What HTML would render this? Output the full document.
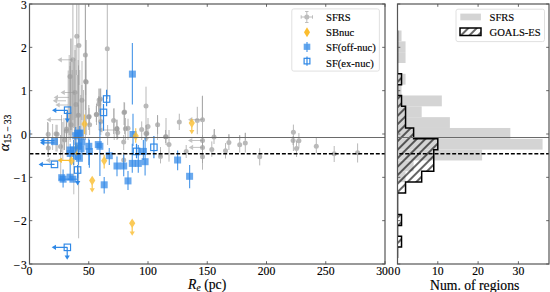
<!DOCTYPE html>
<html><head><meta charset="utf-8"><style>
html,body{margin:0;padding:0;background:#fff;width:550px;height:292px;overflow:hidden}
svg{display:block}
</style></head><body>
<svg width="550" height="292" viewBox="0 0 550 292">
<rect width="550" height="292" fill="#fff"/>
<defs><pattern id="hatch" patternUnits="userSpaceOnUse" width="6" height="6" patternTransform="rotate(45)"><line x1="3" y1="0" x2="3" y2="6" stroke="#000" stroke-width="1.2"/></pattern><clipPath id="lclip"><rect x="29.5" y="4.0" width="355.5" height="260.0"/></clipPath><clipPath id="rclip"><rect x="397.5" y="4.0" width="151.5" height="260.0"/></clipPath></defs><g clip-path="url(#rclip)"><rect x="397.5" y="30.50" width="4.03" height="10.83" fill="#d4d4d4"/><rect x="397.5" y="41.33" width="8.06" height="10.83" fill="#d4d4d4"/><rect x="397.5" y="52.16" width="8.06" height="10.83" fill="#d4d4d4"/><rect x="397.5" y="73.82" width="8.06" height="10.83" fill="#d4d4d4"/><rect x="397.5" y="84.65" width="4.03" height="10.83" fill="#d4d4d4"/><rect x="397.5" y="95.48" width="44.33" height="10.83" fill="#d4d4d4"/><rect x="397.5" y="106.31" width="24.18" height="10.83" fill="#d4d4d4"/><rect x="397.5" y="117.14" width="52.39" height="10.83" fill="#d4d4d4"/><rect x="397.5" y="127.97" width="112.84" height="10.83" fill="#d4d4d4"/><rect x="397.5" y="138.80" width="145.08" height="10.83" fill="#d4d4d4"/><rect x="397.5" y="149.63" width="84.63" height="10.83" fill="#d4d4d4"/><rect x="397.5" y="160.46" width="16.12" height="10.83" fill="#d4d4d4"/><rect x="397.5" y="171.29" width="8.06" height="10.83" fill="#d4d4d4"/><clipPath id="gclip"><path d="M397.50,30.50 L397.50,30.50 L397.50,30.50 L397.50,41.33 L397.50,41.33 L397.50,52.16 L397.50,52.16 L397.50,62.99 L397.50,62.99 L397.50,73.82 L401.53,73.82 L401.53,84.65 L397.50,84.65 L397.50,95.48 L401.53,95.48 L401.53,106.31 L405.56,106.31 L405.56,117.14 L405.56,117.14 L405.56,127.97 L413.62,127.97 L413.62,138.80 L437.80,138.80 L437.80,149.63 L433.77,149.63 L433.77,160.46 L433.77,160.46 L433.77,171.29 L421.68,171.29 L421.68,182.12 L405.56,182.12 L405.56,192.95 L397.50,192.95 L397.50,203.78 L397.50,203.78 L397.50,214.61 L401.53,214.61 L401.53,225.44 L397.50,225.44 L397.50,236.27 L401.53,236.27 L401.53,247.10 L397.50,247.10 L397.50,257.93 L397.50,257.93 Z"/></clipPath><g clip-path="url(#gclip)"><rect x="397.5" y="0" width="160" height="292" fill="url(#hatch)"/></g><path d="M397.50,30.50 L397.50,30.50 L397.50,30.50 L397.50,41.33 L397.50,41.33 L397.50,52.16 L397.50,52.16 L397.50,62.99 L397.50,62.99 L397.50,73.82 L401.53,73.82 L401.53,84.65 L397.50,84.65 L397.50,95.48 L401.53,95.48 L401.53,106.31 L405.56,106.31 L405.56,117.14 L405.56,117.14 L405.56,127.97 L413.62,127.97 L413.62,138.80 L437.80,138.80 L437.80,149.63 L433.77,149.63 L433.77,160.46 L433.77,160.46 L433.77,171.29 L421.68,171.29 L421.68,182.12 L405.56,182.12 L405.56,192.95 L397.50,192.95 L397.50,203.78 L397.50,203.78 L397.50,214.61 L401.53,214.61 L401.53,225.44 L397.50,225.44 L397.50,236.27 L401.53,236.27 L401.53,247.10 L397.50,247.10 L397.50,257.93 L397.50,257.93" fill="none" stroke="#000" stroke-width="1.5"/></g><g clip-path="url(#lclip)"><g opacity="0.6"><line x1="68.2" y1="70.5" x2="68.2" y2="150" stroke="#8a8a8a" stroke-width="0.9"/></g><g opacity="0.6"><line x1="70.5" y1="38.5" x2="70.5" y2="130" stroke="#8a8a8a" stroke-width="0.9"/></g><g opacity="0.6"><line x1="71.7" y1="38.5" x2="71.7" y2="130" stroke="#8a8a8a" stroke-width="0.9"/></g><g opacity="0.6"><line x1="82" y1="61" x2="82" y2="140" stroke="#8a8a8a" stroke-width="0.9"/></g><g opacity="0.6"><line x1="78.5" y1="65.4" x2="78.5" y2="150" stroke="#8a8a8a" stroke-width="0.9"/></g><g opacity="0.6"><line x1="75.1" y1="45" x2="75.1" y2="140" stroke="#8a8a8a" stroke-width="0.9"/></g><g opacity="0.6"><line x1="99" y1="88.5" x2="99" y2="130" stroke="#8a8a8a" stroke-width="0.9"/></g><g opacity="0.6"><line x1="100.8" y1="88.5" x2="100.8" y2="135" stroke="#8a8a8a" stroke-width="0.9"/></g><g opacity="0.6"><line x1="114.2" y1="108.3" x2="114.2" y2="140" stroke="#8a8a8a" stroke-width="0.9"/></g><g opacity="0.6"><line x1="157.5" y1="115" x2="157.5" y2="140" stroke="#8a8a8a" stroke-width="0.9"/></g><g opacity="0.6"><line x1="78.6" y1="150" x2="78.6" y2="238.3" stroke="#8a8a8a" stroke-width="0.9"/></g><g opacity="0.6"><line x1="73.8" y1="150" x2="73.8" y2="194.3" stroke="#8a8a8a" stroke-width="0.9"/></g><g opacity="0.6"><line x1="60.7" y1="150" x2="60.7" y2="180" stroke="#8a8a8a" stroke-width="0.9"/></g><g opacity="0.6"><line x1="47.5" y1="122" x2="47.5" y2="147.5" stroke="#8a8a8a" stroke-width="0.9"/></g><g opacity="0.6"><line x1="52.6" y1="124" x2="52.6" y2="150" stroke="#8a8a8a" stroke-width="0.9"/></g><g opacity="0.6"><line x1="214.5" y1="129" x2="214.5" y2="138" stroke="#8a8a8a" stroke-width="0.9"/></g><g opacity="0.6"><line x1="85.4" y1="4.5" x2="85.4" y2="140" stroke="#8a8a8a" stroke-width="0.9"/></g><g opacity="0.6"><line x1="69.2" y1="55" x2="69.2" y2="135" stroke="#8a8a8a" stroke-width="0.9"/></g><g opacity="0.6"><line x1="73.3" y1="62" x2="73.3" y2="128" stroke="#8a8a8a" stroke-width="0.9"/></g><g opacity="0.6"><line x1="74.3" y1="62" x2="74.3" y2="145" stroke="#8a8a8a" stroke-width="0.9"/></g><g opacity="0.6"><line x1="76.2" y1="70" x2="76.2" y2="150" stroke="#8a8a8a" stroke-width="0.9"/></g><g opacity="0.6"><line x1="77.6" y1="75" x2="77.6" y2="138" stroke="#8a8a8a" stroke-width="0.9"/></g><g opacity="0.6"><line x1="79.8" y1="70" x2="79.8" y2="145" stroke="#8a8a8a" stroke-width="0.9"/></g><g opacity="0.6"><line x1="80.8" y1="95" x2="80.8" y2="150" stroke="#8a8a8a" stroke-width="0.9"/></g><g opacity="0.6"><line x1="83.5" y1="90" x2="83.5" y2="140" stroke="#8a8a8a" stroke-width="0.9"/></g><g opacity="0.6"><line x1="61.5" y1="115" x2="61.5" y2="152" stroke="#8a8a8a" stroke-width="0.9"/></g><g opacity="0.6"><line x1="64" y1="118" x2="64" y2="150" stroke="#8a8a8a" stroke-width="0.9"/></g><g opacity="0.6"><line x1="66.5" y1="112" x2="66.5" y2="155" stroke="#8a8a8a" stroke-width="0.9"/></g><g opacity="0.6"><line x1="62.8" y1="122" x2="62.8" y2="160" stroke="#8a8a8a" stroke-width="0.9"/></g><g opacity="0.6"><line x1="70.2" y1="62" x2="70.2" y2="142" stroke="#8a8a8a" stroke-width="0.9"/></g><g opacity="0.6"><line x1="78.2" y1="60" x2="78.2" y2="140" stroke="#8a8a8a" stroke-width="0.9"/></g><g opacity="0.6"><line x1="72.2" y1="70" x2="72.2" y2="135" stroke="#8a8a8a" stroke-width="0.9"/></g><g opacity="0.6"><line x1="228.9" y1="134" x2="228.9" y2="140" stroke="#8a8a8a" stroke-width="0.9"/></g><g opacity="0.6"><line x1="239.7" y1="135" x2="239.7" y2="140" stroke="#8a8a8a" stroke-width="0.9"/></g><g opacity="0.6"><line x1="245.3" y1="132.9" x2="245.3" y2="140" stroke="#8a8a8a" stroke-width="0.9"/></g><g opacity="0.6"><line x1="202.3" y1="96.2" x2="202.3" y2="120" stroke="#8a8a8a" stroke-width="0.9"/></g><g opacity="0.7"><line x1="76.8" y1="4.5" x2="76.8" y2="75" stroke="#9c9c9c" stroke-width="1"/><circle cx="76.8" cy="36.3" r="2.5" fill="#9c9c9c"/></g><g opacity="0.7"><line x1="78.9" y1="4.5" x2="78.9" y2="85" stroke="#9c9c9c" stroke-width="1"/><circle cx="78.9" cy="45.4" r="2.5" fill="#9c9c9c"/></g><g opacity="0.7"><line x1="85.4" y1="4.5" x2="85.4" y2="110" stroke="#9c9c9c" stroke-width="1"/><circle cx="85.4" cy="55.1" r="2.5" fill="#9c9c9c"/></g><g opacity="0.7"><line x1="72.9" y1="4.5" x2="72.9" y2="120" stroke="#9c9c9c" stroke-width="1"/><circle cx="72.9" cy="59.8" r="2.5" fill="#9c9c9c"/></g><g opacity="0.7"><line x1="107.3" y1="4.5" x2="107.3" y2="99" stroke="#9c9c9c" stroke-width="1"/><circle cx="107.3" cy="48.8" r="2.5" fill="#9c9c9c"/></g><g opacity="0.7"><line x1="70" y1="66" x2="70" y2="140" stroke="#9c9c9c" stroke-width="1"/><circle cx="70" cy="76.5" r="2.5" fill="#9c9c9c"/></g><g opacity="0.7"><line x1="86.2" y1="40" x2="86.2" y2="135" stroke="#9c9c9c" stroke-width="1"/><circle cx="86.2" cy="82" r="2.5" fill="#9c9c9c"/></g><g opacity="0.7"><line x1="75" y1="50" x2="75" y2="140" stroke="#9c9c9c" stroke-width="1"/><circle cx="75" cy="92.5" r="2.5" fill="#9c9c9c"/></g><g opacity="0.7"><line x1="81.9" y1="85" x2="81.9" y2="120" stroke="#9c9c9c" stroke-width="1"/><circle cx="81.9" cy="100.3" r="2.5" fill="#9c9c9c"/></g><g opacity="0.7"><line x1="88.8" y1="105" x2="88.8" y2="130" stroke="#9c9c9c" stroke-width="1"/><circle cx="88.8" cy="117.1" r="2.5" fill="#9c9c9c"/></g><g opacity="0.7"><line x1="89.6" y1="115" x2="89.6" y2="135" stroke="#9c9c9c" stroke-width="1"/><circle cx="89.6" cy="124.8" r="2.5" fill="#9c9c9c"/></g><g opacity="0.7"><line x1="96.5" y1="104" x2="96.5" y2="125" stroke="#9c9c9c" stroke-width="1"/><circle cx="96.5" cy="114.5" r="2.5" fill="#9c9c9c"/></g><g opacity="0.7"><line x1="100.8" y1="110" x2="100.8" y2="132" stroke="#9c9c9c" stroke-width="1"/><circle cx="100.8" cy="121.4" r="2.5" fill="#9c9c9c"/></g><g opacity="0.7"><line x1="99.1" y1="88.7" x2="99.1" y2="115" stroke="#9c9c9c" stroke-width="1"/><circle cx="99.1" cy="100" r="2.5" fill="#9c9c9c"/></g><g opacity="0.7"><line x1="98.8" y1="96" x2="98.8" y2="112" stroke="#9c9c9c" stroke-width="1"/><circle cx="98.8" cy="104.1" r="2.5" fill="#9c9c9c"/></g><g opacity="0.7"><line x1="76" y1="95" x2="76" y2="118" stroke="#9c9c9c" stroke-width="1"/><circle cx="76" cy="104.4" r="2.5" fill="#9c9c9c"/></g><g opacity="0.7"><line x1="78.4" y1="105" x2="78.4" y2="125" stroke="#9c9c9c" stroke-width="1"/><circle cx="78.4" cy="115.2" r="2.5" fill="#9c9c9c"/></g><g opacity="0.7"><line x1="71.2" y1="112" x2="71.2" y2="138" stroke="#9c9c9c" stroke-width="1"/><circle cx="71.2" cy="124.8" r="2.5" fill="#9c9c9c"/></g><g opacity="0.7"><line x1="113.6" y1="108.5" x2="113.6" y2="134" stroke="#9c9c9c" stroke-width="1"/><circle cx="113.6" cy="120.5" r="2.5" fill="#9c9c9c"/></g><g opacity="0.7"><line x1="117" y1="119.7" x2="117" y2="140" stroke="#9c9c9c" stroke-width="1"/><circle cx="117" cy="128.8" r="2.5" fill="#9c9c9c"/></g><g opacity="0.7"><line x1="107.6" y1="125" x2="107.6" y2="145" stroke="#9c9c9c" stroke-width="1"/><circle cx="107.6" cy="134.2" r="2.5" fill="#9c9c9c"/></g><g opacity="0.7"><line x1="48.2" y1="122.7" x2="48.2" y2="157" stroke="#9c9c9c" stroke-width="1"/><circle cx="48.2" cy="134.2" r="2.5" fill="#9c9c9c"/></g><g opacity="0.7"><line x1="57.1" y1="124.8" x2="57.1" y2="151.5" stroke="#9c9c9c" stroke-width="1"/><circle cx="57.1" cy="134.2" r="2.5" fill="#9c9c9c"/></g><g opacity="0.7"><line x1="66.5" y1="120" x2="66.5" y2="140" stroke="#9c9c9c" stroke-width="1"/><circle cx="66.5" cy="129" r="2.5" fill="#9c9c9c"/></g><g opacity="0.7"><line x1="48.3" y1="140" x2="48.3" y2="157" stroke="#9c9c9c" stroke-width="1"/><circle cx="48.3" cy="148" r="2.5" fill="#9c9c9c"/></g><g opacity="0.7"><line x1="146" y1="86.7" x2="146" y2="138" stroke="#9c9c9c" stroke-width="1"/><circle cx="146" cy="106" r="2.5" fill="#9c9c9c"/></g><g opacity="0.7"><line x1="124.6" y1="102.6" x2="124.6" y2="134.2" stroke="#9c9c9c" stroke-width="1"/><circle cx="124.6" cy="112" r="2.5" fill="#9c9c9c"/></g><g opacity="0.7"><line x1="116.8" y1="119.7" x2="116.8" y2="138" stroke="#9c9c9c" stroke-width="1"/><circle cx="116.8" cy="128.8" r="2.5" fill="#9c9c9c"/></g><g opacity="0.7"><line x1="125.4" y1="118" x2="125.4" y2="140" stroke="#9c9c9c" stroke-width="1"/><circle cx="125.4" cy="128.8" r="2.5" fill="#9c9c9c"/></g><g opacity="0.7"><line x1="128" y1="118.8" x2="128" y2="140" stroke="#9c9c9c" stroke-width="1"/><circle cx="128" cy="128.2" r="2.5" fill="#9c9c9c"/></g><g opacity="0.7"><line x1="141.7" y1="121.4" x2="141.7" y2="140" stroke="#9c9c9c" stroke-width="1"/><circle cx="141.7" cy="129.4" r="2.5" fill="#9c9c9c"/></g><g opacity="0.7"><line x1="148" y1="118" x2="148" y2="135" stroke="#9c9c9c" stroke-width="1"/><circle cx="148" cy="126.5" r="2.5" fill="#9c9c9c"/></g><g opacity="0.7"><line x1="146" y1="125" x2="146" y2="141" stroke="#9c9c9c" stroke-width="1"/><circle cx="146" cy="133.4" r="2.5" fill="#9c9c9c"/></g><g opacity="0.7"><line x1="157.6" y1="115.4" x2="157.6" y2="134.2" stroke="#9c9c9c" stroke-width="1"/><circle cx="157.6" cy="124.8" r="2.5" fill="#9c9c9c"/></g><g opacity="0.7"><line x1="166" y1="118" x2="166" y2="145" stroke="#9c9c9c" stroke-width="1"/><circle cx="166" cy="136.8" r="2.5" fill="#9c9c9c"/></g><g opacity="0.7"><line x1="179.3" y1="113.7" x2="179.3" y2="130" stroke="#9c9c9c" stroke-width="1"/><circle cx="179.3" cy="121.9" r="2.5" fill="#9c9c9c"/></g><g opacity="0.7"><line x1="197.3" y1="106.8" x2="197.3" y2="134.2" stroke="#9c9c9c" stroke-width="1"/><circle cx="197.3" cy="120.5" r="2.5" fill="#9c9c9c"/></g><g opacity="0.7"><line x1="202.5" y1="95.7" x2="202.5" y2="169.7" stroke="#9c9c9c" stroke-width="1"/><circle cx="202.5" cy="119.7" r="2.5" fill="#9c9c9c"/></g><g opacity="0.7"><line x1="123.7" y1="135" x2="123.7" y2="150" stroke="#9c9c9c" stroke-width="1"/><circle cx="123.7" cy="142" r="2.5" fill="#9c9c9c"/></g><g opacity="0.7"><line x1="146.8" y1="128" x2="146.8" y2="139" stroke="#9c9c9c" stroke-width="1"/><circle cx="146.8" cy="133.4" r="2.5" fill="#9c9c9c"/></g><g opacity="0.7"><line x1="165.6" y1="130" x2="165.6" y2="143" stroke="#9c9c9c" stroke-width="1"/><circle cx="165.6" cy="136.8" r="2.5" fill="#9c9c9c"/></g><g opacity="0.7"><line x1="169" y1="130" x2="169" y2="161.7" stroke="#9c9c9c" stroke-width="1"/><circle cx="169" cy="144.6" r="2.5" fill="#9c9c9c"/></g><g opacity="0.7"><line x1="160.5" y1="147" x2="160.5" y2="163.4" stroke="#9c9c9c" stroke-width="1"/><circle cx="160.5" cy="156.5" r="2.5" fill="#9c9c9c"/></g><g opacity="0.7"><line x1="123.7" y1="152" x2="123.7" y2="168" stroke="#9c9c9c" stroke-width="1"/><circle cx="123.7" cy="160" r="2.5" fill="#9c9c9c"/></g><g opacity="0.7"><line x1="117.7" y1="126" x2="117.7" y2="139" stroke="#9c9c9c" stroke-width="1"/><circle cx="117.7" cy="132.6" r="2.5" fill="#9c9c9c"/></g><g opacity="0.7"><line x1="202.5" y1="135" x2="202.5" y2="146" stroke="#9c9c9c" stroke-width="1"/><circle cx="202.5" cy="140.5" r="2.5" fill="#9c9c9c"/></g><g opacity="0.7"><line x1="202.5" y1="142" x2="202.5" y2="153" stroke="#9c9c9c" stroke-width="1"/><circle cx="202.5" cy="147.4" r="2.5" fill="#9c9c9c"/></g><g opacity="0.7"><line x1="202.5" y1="150" x2="202.5" y2="163" stroke="#9c9c9c" stroke-width="1"/><circle cx="202.5" cy="156.8" r="2.5" fill="#9c9c9c"/></g><g opacity="0.7"><line x1="186.2" y1="145" x2="186.2" y2="158" stroke="#9c9c9c" stroke-width="1"/><circle cx="186.2" cy="151.4" r="2.5" fill="#9c9c9c"/></g><g opacity="0.7"><line x1="214" y1="129.4" x2="214" y2="144" stroke="#9c9c9c" stroke-width="1"/><circle cx="214" cy="137.1" r="2.5" fill="#9c9c9c"/></g><g opacity="0.7"><line x1="211.8" y1="141.4" x2="211.8" y2="156.8" stroke="#9c9c9c" stroke-width="1"/><circle cx="211.8" cy="149.5" r="2.5" fill="#9c9c9c"/></g><g opacity="0.7"><line x1="228.9" y1="134.6" x2="228.9" y2="150" stroke="#9c9c9c" stroke-width="1"/><circle cx="228.9" cy="142.6" r="2.5" fill="#9c9c9c"/></g><g opacity="0.7"><line x1="225.5" y1="143.1" x2="225.5" y2="158.5" stroke="#9c9c9c" stroke-width="1"/><circle cx="225.5" cy="150.8" r="2.5" fill="#9c9c9c"/></g><g opacity="0.7"><line x1="239.7" y1="135.4" x2="239.7" y2="152.5" stroke="#9c9c9c" stroke-width="1"/><circle cx="239.7" cy="144.8" r="2.5" fill="#9c9c9c"/></g><g opacity="0.7"><line x1="245.3" y1="132.8" x2="245.3" y2="152.5" stroke="#9c9c9c" stroke-width="1"/><circle cx="245.3" cy="143.1" r="2.5" fill="#9c9c9c"/></g><g opacity="0.7"><line x1="259.7" y1="148.3" x2="259.7" y2="165.4" stroke="#9c9c9c" stroke-width="1"/><circle cx="259.7" cy="156.8" r="2.5" fill="#9c9c9c"/></g><g opacity="0.7"><line x1="293.4" y1="124.6" x2="293.4" y2="151" stroke="#9c9c9c" stroke-width="1"/><circle cx="293.4" cy="132.3" r="2.5" fill="#9c9c9c"/></g><g opacity="0.7"><line x1="293.1" y1="136" x2="293.1" y2="145" stroke="#9c9c9c" stroke-width="1"/><circle cx="293.1" cy="140.5" r="2.5" fill="#9c9c9c"/></g><g opacity="0.7"><line x1="298.9" y1="133.1" x2="298.9" y2="148.5" stroke="#9c9c9c" stroke-width="1"/><circle cx="298.9" cy="140.8" r="2.5" fill="#9c9c9c"/></g><g opacity="0.7"><line x1="296.5" y1="140.8" x2="296.5" y2="157" stroke="#9c9c9c" stroke-width="1"/><circle cx="296.5" cy="148.5" r="2.5" fill="#9c9c9c"/></g><g opacity="0.7"><line x1="316.3" y1="137.7" x2="316.3" y2="153.3" stroke="#9c9c9c" stroke-width="1"/><circle cx="316.3" cy="146.3" r="2.5" fill="#9c9c9c"/></g><g opacity="0.7"><line x1="334.2" y1="146" x2="334.2" y2="162" stroke="#9c9c9c" stroke-width="1"/><circle cx="334.2" cy="153.7" r="2.5" fill="#9c9c9c"/></g><g opacity="0.7"><line x1="357.6" y1="143.4" x2="357.6" y2="162.5" stroke="#9c9c9c" stroke-width="1"/><circle cx="357.6" cy="152.8" r="2.5" fill="#9c9c9c"/></g><g opacity="0.7"><line x1="85.6" y1="70" x2="85.6" y2="95" stroke="#9c9c9c" stroke-width="1"/><circle cx="85.6" cy="81.6" r="2.5" fill="#9c9c9c"/></g><g opacity="0.7"><line x1="89.1" y1="108" x2="89.1" y2="125" stroke="#9c9c9c" stroke-width="1"/><circle cx="89.1" cy="116.5" r="2.5" fill="#9c9c9c"/></g><g opacity="0.7"><line x1="96.3" y1="106" x2="96.3" y2="122" stroke="#9c9c9c" stroke-width="1"/><circle cx="96.3" cy="114.4" r="2.5" fill="#9c9c9c"/></g><g opacity="0.7"><line x1="100.4" y1="88.7" x2="100.4" y2="125" stroke="#9c9c9c" stroke-width="1"/><circle cx="100.4" cy="99" r="2.5" fill="#9c9c9c"/></g><g opacity="0.7"><line x1="124" y1="102.1" x2="124" y2="125" stroke="#9c9c9c" stroke-width="1"/><circle cx="124" cy="112.4" r="2.5" fill="#9c9c9c"/></g><g opacity="0.7"><line x1="66.3" y1="118" x2="66.3" y2="142" stroke="#9c9c9c" stroke-width="1"/><circle cx="66.3" cy="130.9" r="2.5" fill="#9c9c9c"/></g><g opacity="0.7"><line x1="64.5" y1="130" x2="64.5" y2="150" stroke="#9c9c9c" stroke-width="1"/><circle cx="64.5" cy="140" r="2.5" fill="#9c9c9c"/></g><g opacity="0.7"><line x1="60.5" y1="135" x2="60.5" y2="155" stroke="#9c9c9c" stroke-width="1"/><circle cx="60.5" cy="146.5" r="2.5" fill="#9c9c9c"/></g><g opacity="0.7"><line x1="56" y1="124.8" x2="56" y2="151.5" stroke="#9c9c9c" stroke-width="1"/><circle cx="56" cy="133.7" r="2.5" fill="#9c9c9c"/></g><g opacity="0.6"><line x1="72.9" y1="59.8" x2="61.3" y2="59.8" stroke="#9c9c9c" stroke-width="1"/><path d="M57.5,59.8 L61.8,57.199999999999996 L61.8,62.4 Z" fill="#9c9c9c"/></g><g opacity="0.6"><line x1="75" y1="92.5" x2="64.3" y2="92.5" stroke="#9c9c9c" stroke-width="1"/><path d="M60.5,92.5 L64.8,89.9 L64.8,95.1 Z" fill="#9c9c9c"/></g><g opacity="0.6"><line x1="69" y1="97.4" x2="57.5" y2="97.4" stroke="#9c9c9c" stroke-width="1"/><path d="M53.7,97.4 L58.0,94.80000000000001 L58.0,100.0 Z" fill="#9c9c9c"/></g><g opacity="0.6"><line x1="66" y1="100.8" x2="56.599999999999994" y2="100.8" stroke="#9c9c9c" stroke-width="1"/><path d="M52.8,100.8 L57.099999999999994,98.2 L57.099999999999994,103.39999999999999 Z" fill="#9c9c9c"/></g><g opacity="0.6"><line x1="68" y1="105" x2="59.199999999999996" y2="105" stroke="#9c9c9c" stroke-width="1"/><path d="M55.4,105 L59.699999999999996,102.4 L59.699999999999996,107.6 Z" fill="#9c9c9c"/></g><g opacity="0.6"><line x1="62.2" y1="119.7" x2="50.3" y2="119.7" stroke="#9c9c9c" stroke-width="1"/><path d="M46.5,119.7 L50.8,117.10000000000001 L50.8,122.3 Z" fill="#9c9c9c"/></g><g opacity="0.6"><line x1="115.3" y1="130" x2="102.0" y2="130" stroke="#9c9c9c" stroke-width="1"/><path d="M98.2,130 L102.5,127.4 L102.5,132.6 Z" fill="#9c9c9c"/></g><g opacity="0.6"><line x1="202.5" y1="119.7" x2="191.8" y2="119.7" stroke="#9c9c9c" stroke-width="1"/><path d="M188,119.7 L192.3,117.10000000000001 L192.3,122.3 Z" fill="#9c9c9c"/></g><g opacity="0.6"><line x1="202.5" y1="140.5" x2="191.8" y2="140.5" stroke="#9c9c9c" stroke-width="1"/><path d="M188,140.5 L192.3,137.9 L192.3,143.1 Z" fill="#9c9c9c"/></g><g opacity="0.6"><line x1="202.5" y1="147.4" x2="192.60000000000002" y2="147.4" stroke="#9c9c9c" stroke-width="1"/><path d="M188.8,147.4 L193.10000000000002,144.8 L193.10000000000002,150.0 Z" fill="#9c9c9c"/></g><g opacity="0.6"><line x1="60" y1="160.3" x2="49.599999999999994" y2="160.3" stroke="#9c9c9c" stroke-width="1"/><path d="M45.8,160.3 L50.099999999999994,157.70000000000002 L50.099999999999994,162.9 Z" fill="#9c9c9c"/></g><g opacity="0.6"><line x1="160.5" y1="150" x2="160.5" y2="154.2" stroke="#9c9c9c" stroke-width="1"/><path d="M160.5,158 L157.9,153.7 L163.1,153.7 Z" fill="#9c9c9c"/></g><g opacity="0.6"><line x1="146.5" y1="133" x2="146.5" y2="138.2" stroke="#9c9c9c" stroke-width="1"/><path d="M146.5,142 L143.9,137.7 L149.1,137.7 Z" fill="#9c9c9c"/></g><path d="M76.6,143.2 L79.69999999999999,148 L76.6,152.8 L73.5,148 Z" fill="#fbbd2e" opacity="0.8"/><g opacity="0.8"><line x1="132.4" y1="43" x2="132.4" y2="104.5" stroke="#2f88e6" stroke-width="1.2"/></g><rect x="128.9" y="70.6" width="7" height="7" fill="#3088e8" opacity="0.72"/><g opacity="0.8"></g><rect x="51.0" y="138.1" width="7" height="7" fill="#3088e8" opacity="0.72"/><g opacity="0.8"></g><rect x="23.5" y="129.9" width="7" height="7" fill="#3088e8" opacity="0.72"/><g opacity="0.8"><line x1="75.7" y1="127" x2="75.7" y2="160" stroke="#2f88e6" stroke-width="1.2"/></g><rect x="72.2" y="132.2" width="7" height="7" fill="#3088e8" opacity="0.72"/><g opacity="0.8"><line x1="79.8" y1="126" x2="79.8" y2="150" stroke="#2f88e6" stroke-width="1.2"/></g><rect x="76.3" y="129.5" width="7" height="7" fill="#3088e8" opacity="0.72"/><g opacity="0.8"><line x1="81.9" y1="130" x2="81.9" y2="155" stroke="#2f88e6" stroke-width="1.2"/></g><rect x="78.4" y="138.4" width="7" height="7" fill="#3088e8" opacity="0.72"/><g opacity="0.8"><line x1="78.4" y1="135" x2="78.4" y2="165" stroke="#2f88e6" stroke-width="1.2"/></g><rect x="74.9" y="142.5" width="7" height="7" fill="#3088e8" opacity="0.72"/><g opacity="0.8"><line x1="73.6" y1="140" x2="73.6" y2="165" stroke="#2f88e6" stroke-width="1.2"/></g><rect x="70.1" y="146.5" width="7" height="7" fill="#3088e8" opacity="0.72"/><g opacity="0.8"><line x1="88.8" y1="138.4" x2="88.8" y2="165" stroke="#2f88e6" stroke-width="1.2"/></g><rect x="85.3" y="142.8" width="7" height="7" fill="#3088e8" opacity="0.72"/><g opacity="0.8"><line x1="99.9" y1="122" x2="99.9" y2="176" stroke="#2f88e6" stroke-width="1.2"/></g><rect x="96.4" y="142.8" width="7" height="7" fill="#3088e8" opacity="0.72"/><g opacity="0.8"></g><rect x="94.8" y="141.1" width="7" height="7" fill="#3088e8" opacity="0.72"/><g opacity="0.8"><line x1="70.2" y1="143.7" x2="70.2" y2="178" stroke="#2f88e6" stroke-width="1.2"/></g><rect x="66.7" y="150.0" width="7" height="7" fill="#3088e8" opacity="0.72"/><g opacity="0.8"><line x1="89.4" y1="140" x2="89.4" y2="167.7" stroke="#2f88e6" stroke-width="1.2"/></g><rect x="85.9" y="148.0" width="7" height="7" fill="#3088e8" opacity="0.72"/><g opacity="0.8"><line x1="109.3" y1="148" x2="109.3" y2="165" stroke="#2f88e6" stroke-width="1.2"/></g><rect x="105.8" y="152.2" width="7" height="7" fill="#3088e8" opacity="0.72"/><g opacity="0.8"><line x1="117" y1="156.5" x2="117" y2="176.2" stroke="#2f88e6" stroke-width="1.2"/></g><rect x="113.5" y="162.5" width="7" height="7" fill="#3088e8" opacity="0.72"/><g opacity="0.8"><line x1="123.7" y1="154.8" x2="123.7" y2="176.2" stroke="#2f88e6" stroke-width="1.2"/></g><rect x="120.2" y="162.5" width="7" height="7" fill="#3088e8" opacity="0.72"/><g opacity="0.8"><line x1="132.3" y1="143.7" x2="132.3" y2="172.8" stroke="#2f88e6" stroke-width="1.2"/></g><rect x="128.8" y="159.9" width="7" height="7" fill="#3088e8" opacity="0.72"/><g opacity="0.8"><line x1="138.3" y1="145" x2="138.3" y2="172.8" stroke="#2f88e6" stroke-width="1.2"/></g><rect x="134.8" y="159.9" width="7" height="7" fill="#3088e8" opacity="0.72"/><g opacity="0.8"><line x1="145.1" y1="136.8" x2="145.1" y2="175.4" stroke="#2f88e6" stroke-width="1.2"/></g><rect x="141.6" y="158.2" width="7" height="7" fill="#3088e8" opacity="0.72"/><g opacity="0.8"><line x1="143.4" y1="140" x2="143.4" y2="160" stroke="#2f88e6" stroke-width="1.2"/></g><rect x="139.9" y="147.9" width="7" height="7" fill="#3088e8" opacity="0.72"/><g opacity="0.8"><line x1="133" y1="113.7" x2="133" y2="146" stroke="#2f88e6" stroke-width="1.2"/></g><rect x="129.5" y="131.0" width="7" height="7" fill="#3088e8" opacity="0.72"/><g opacity="0.8"><line x1="177.6" y1="150.5" x2="177.6" y2="170.2" stroke="#2f88e6" stroke-width="1.2"/></g><rect x="174.1" y="156.5" width="7" height="7" fill="#3088e8" opacity="0.72"/><g opacity="0.8"><line x1="189.6" y1="165.1" x2="189.6" y2="188.3" stroke="#2f88e6" stroke-width="1.2"/></g><rect x="186.1" y="172.8" width="7" height="7" fill="#3088e8" opacity="0.72"/><g opacity="0.8"><line x1="128" y1="171" x2="128" y2="190" stroke="#2f88e6" stroke-width="1.2"/></g><rect x="124.5" y="177.4" width="7" height="7" fill="#3088e8" opacity="0.72"/><g opacity="0.8"><line x1="63.1" y1="169.4" x2="63.1" y2="187.4" stroke="#2f88e6" stroke-width="1.2"/><line x1="58.8" y1="179.2" x2="72.5" y2="179.2" stroke="#2f88e6" stroke-width="1.2"/></g><rect x="59.6" y="175.7" width="7" height="7" fill="#3088e8" opacity="0.72"/><g opacity="0.8"><line x1="68" y1="179.2" x2="77.7" y2="179.2" stroke="#2f88e6" stroke-width="1.2"/></g><rect x="69.4" y="175.7" width="7" height="7" fill="#3088e8" opacity="0.72"/><g opacity="0.8"><line x1="104.2" y1="177.1" x2="104.2" y2="193.4" stroke="#2f88e6" stroke-width="1.2"/></g><rect x="100.7" y="181.3" width="7" height="7" fill="#3088e8" opacity="0.72"/><g opacity="0.8"></g><rect x="75.9" y="154.8" width="7" height="7" fill="#3088e8" opacity="0.72"/><g opacity="0.8"></g><rect x="66.5" y="146.5" width="7" height="7" fill="#3088e8" opacity="0.72"/><g opacity="0.8"></g><rect x="74.2" y="129.9" width="7" height="7" fill="#3088e8" opacity="0.72"/><g opacity="0.8"></g><rect x="77.5" y="145.3" width="7" height="7" fill="#3088e8" opacity="0.72"/><g opacity="0.8"></g><rect x="58.2" y="174.2" width="7" height="7" fill="#3088e8" opacity="0.72"/><g opacity="0.8"></g><rect x="66.5" y="173.7" width="7" height="7" fill="#3088e8" opacity="0.72"/><g opacity="0.8"></g><rect x="74.1" y="152.7" width="7" height="7" fill="#3088e8" opacity="0.72"/><line x1="54.5" y1="140.6" x2="43.8" y2="140.6" stroke="#2f88e6" stroke-width="1.2"/><path d="M40,140.6 L44.3,138.0 L44.3,143.2 Z" fill="#2f88e6"/><line x1="54.5" y1="142.8" x2="43.8" y2="142.8" stroke="#2f88e6" stroke-width="1.2"/><path d="M40,142.8 L44.3,140.20000000000002 L44.3,145.4 Z" fill="#2f88e6"/><line x1="67.6" y1="110.3" x2="55.8" y2="110.3" stroke="#2f88e6" stroke-width="1.2"/><path d="M52,110.3 L56.3,107.7 L56.3,112.89999999999999 Z" fill="#2f88e6"/><line x1="54.5" y1="164.4" x2="42.4" y2="164.4" stroke="#2f88e6" stroke-width="1.2"/><path d="M38.6,164.4 L42.9,161.8 L42.9,167.0 Z" fill="#2f88e6"/><line x1="67.35" y1="247.35" x2="55.5" y2="247.35" stroke="#2f88e6" stroke-width="1.2"/><path d="M51.7,247.35 L56.0,244.75 L56.0,249.95 Z" fill="#2f88e6"/><line x1="67.4" y1="110.2" x2="67.4" y2="119.0" stroke="#2f88e6" stroke-width="1.2"/><path d="M67.4,122.8 L64.80000000000001,118.5 L70.0,118.5 Z" fill="#2f88e6"/><line x1="77.7" y1="170.2" x2="77.7" y2="181.6" stroke="#2f88e6" stroke-width="1.2"/><path d="M77.7,185.4 L75.10000000000001,181.1 L80.3,181.1 Z" fill="#2f88e6"/><line x1="67.2" y1="247.35" x2="67.2" y2="256.0" stroke="#2f88e6" stroke-width="1.2"/><path d="M67.2,259.8 L64.60000000000001,255.5 L69.8,255.5 Z" fill="#2f88e6"/><rect x="64.39999999999999" y="106.95" width="6.4" height="6.5" fill="none" stroke="#2f88e6" stroke-width="1.15"/><line x1="106.6" y1="89.8" x2="106.6" y2="106.2" stroke="#2f88e6" stroke-width="1.2"/><rect x="103.39999999999999" y="95.75" width="6.4" height="6.5" fill="none" stroke="#2f88e6" stroke-width="1.15"/><line x1="103.5" y1="104.1" x2="103.5" y2="130.8" stroke="#2f88e6" stroke-width="1.2"/><rect x="100.3" y="109.15" width="6.4" height="6.5" fill="none" stroke="#2f88e6" stroke-width="1.15"/><rect x="51.3" y="161.15" width="6.4" height="6.5" fill="none" stroke="#2f88e6" stroke-width="1.15"/><line x1="77.6" y1="165" x2="77.6" y2="178" stroke="#2f88e6" stroke-width="1.2"/><rect x="74.39999999999999" y="166.75" width="6.4" height="6.5" fill="none" stroke="#2f88e6" stroke-width="1.15"/><line x1="136.5" y1="143.7" x2="136.5" y2="158.3" stroke="#2f88e6" stroke-width="1.2"/><rect x="133.3" y="148.15" width="6.4" height="6.5" fill="none" stroke="#2f88e6" stroke-width="1.15"/><line x1="153.9" y1="136" x2="153.9" y2="158.2" stroke="#2f88e6" stroke-width="1.2"/><rect x="150.70000000000002" y="144.05" width="6.4" height="6.5" fill="none" stroke="#2f88e6" stroke-width="1.15"/><rect x="64.14999999999999" y="244.1" width="6.4" height="6.5" fill="none" stroke="#2f88e6" stroke-width="1.15"/><line x1="71.5" y1="160.3" x2="61.4" y2="160.3" stroke="#fbbd2e" stroke-width="1.2"/><path d="M57.6,160.3 L61.9,157.70000000000002 L61.9,162.9 Z" fill="#fbbd2e"/><g opacity="0.8"><line x1="84.5" y1="114.5" x2="84.5" y2="134.2" stroke="#fbbd2e" stroke-width="1.2"/><path d="M84.5,119.2 L87.6,124 L84.5,128.8 L81.4,124 Z" fill="#fbbd2e"/></g><g opacity="0.8"><path d="M71.5,156.0 L74.6,160.8 L71.5,165.60000000000002 L68.4,160.8 Z" fill="#fbbd2e"/></g><g opacity="0.8"><line x1="104.2" y1="154.8" x2="104.2" y2="168.5" stroke="#fbbd2e" stroke-width="1.2"/><path d="M104.2,156.0 L107.3,160.8 L104.2,165.60000000000002 L101.10000000000001,160.8 Z" fill="#fbbd2e"/></g><g opacity="0.8"><line x1="92.2" y1="180.6" x2="92.2" y2="188.7" stroke="#fbbd2e" stroke-width="1.3"/><path d="M92.2,192.5 L89.60000000000001,188.2 L94.8,188.2 Z" fill="#fbbd2e"/><path d="M92.2,175.79999999999998 L95.3,180.6 L92.2,185.4 L89.10000000000001,180.6 Z" fill="#fbbd2e"/></g><g opacity="0.8"><line x1="191.8" y1="123.1" x2="191.8" y2="130.39999999999998" stroke="#fbbd2e" stroke-width="1.3"/><path d="M191.8,134.2 L189.20000000000002,129.89999999999998 L194.4,129.89999999999998 Z" fill="#fbbd2e"/><path d="M191.8,118.3 L194.9,123.1 L191.8,127.89999999999999 L188.70000000000002,123.1 Z" fill="#fbbd2e"/></g><g opacity="0.8"><line x1="135.7" y1="128.2" x2="135.7" y2="142.8" stroke="#fbbd2e" stroke-width="1.2"/><path d="M135.7,131.2 L138.79999999999998,136 L135.7,140.8 L132.6,136 Z" fill="#fbbd2e"/></g><g opacity="0.8"><line x1="132.2" y1="223.3" x2="132.2" y2="232.0" stroke="#fbbd2e" stroke-width="1.3"/><path d="M132.2,235.8 L129.6,231.5 L134.79999999999998,231.5 Z" fill="#fbbd2e"/><path d="M132.2,218.5 L135.29999999999998,223.3 L132.2,228.10000000000002 L129.1,223.3 Z" fill="#fbbd2e"/></g><g opacity="0.8"><path d="M76.5,150.9 L78.05,153.3 L76.5,155.70000000000002 L74.95,153.3 Z" fill="#fbbd2e"/></g></g><line x1="29.5" y1="137.5" x2="385.0" y2="137.5" stroke="#6a6a6a" stroke-width="1.1"/><line x1="397.5" y1="137.5" x2="549.0" y2="137.5" stroke="#6a6a6a" stroke-width="1.1"/><line x1="29.5" y1="153.7" x2="385.0" y2="153.7" stroke="#000" stroke-width="1.5" stroke-dasharray="3.95 1.92"/><line x1="397.5" y1="153.7" x2="549.0" y2="153.7" stroke="#000" stroke-width="1.5" stroke-dasharray="3.95 1.92" stroke-dashoffset="4.03"/><rect x="29.5" y="4.0" width="355.5" height="260.0" fill="none" stroke="#555" stroke-width="1.2"/><rect x="397.5" y="4.0" width="151.5" height="260.0" fill="none" stroke="#555" stroke-width="1.2"/><line x1="29.50" y1="264.0" x2="29.50" y2="261.2" stroke="#555" stroke-width="0.9"/><line x1="29.50" y1="4.0" x2="29.50" y2="6.8" stroke="#555" stroke-width="0.9"/><text x="29.50" y="274.5" font-family="Liberation Serif" stroke="#000" stroke-width="0.15" font-size="11.7" text-anchor="middle">0</text><line x1="88.75" y1="264.0" x2="88.75" y2="261.2" stroke="#555" stroke-width="0.9"/><line x1="88.75" y1="4.0" x2="88.75" y2="6.8" stroke="#555" stroke-width="0.9"/><text x="88.75" y="274.5" font-family="Liberation Serif" stroke="#000" stroke-width="0.15" font-size="11.7" text-anchor="middle">50</text><line x1="148.00" y1="264.0" x2="148.00" y2="261.2" stroke="#555" stroke-width="0.9"/><line x1="148.00" y1="4.0" x2="148.00" y2="6.8" stroke="#555" stroke-width="0.9"/><text x="148.00" y="274.5" font-family="Liberation Serif" stroke="#000" stroke-width="0.15" font-size="11.7" text-anchor="middle">100</text><line x1="207.25" y1="264.0" x2="207.25" y2="261.2" stroke="#555" stroke-width="0.9"/><line x1="207.25" y1="4.0" x2="207.25" y2="6.8" stroke="#555" stroke-width="0.9"/><text x="207.25" y="274.5" font-family="Liberation Serif" stroke="#000" stroke-width="0.15" font-size="11.7" text-anchor="middle">150</text><line x1="266.50" y1="264.0" x2="266.50" y2="261.2" stroke="#555" stroke-width="0.9"/><line x1="266.50" y1="4.0" x2="266.50" y2="6.8" stroke="#555" stroke-width="0.9"/><text x="266.50" y="274.5" font-family="Liberation Serif" stroke="#000" stroke-width="0.15" font-size="11.7" text-anchor="middle">200</text><line x1="325.75" y1="264.0" x2="325.75" y2="261.2" stroke="#555" stroke-width="0.9"/><line x1="325.75" y1="4.0" x2="325.75" y2="6.8" stroke="#555" stroke-width="0.9"/><text x="325.75" y="274.5" font-family="Liberation Serif" stroke="#000" stroke-width="0.15" font-size="11.7" text-anchor="middle">250</text><line x1="385.00" y1="264.0" x2="385.00" y2="261.2" stroke="#555" stroke-width="0.9"/><line x1="385.00" y1="4.0" x2="385.00" y2="6.8" stroke="#555" stroke-width="0.9"/><text x="385.00" y="274.5" font-family="Liberation Serif" stroke="#000" stroke-width="0.15" font-size="11.7" text-anchor="middle">300</text><line x1="29.5" y1="264.00" x2="32.3" y2="264.00" stroke="#555" stroke-width="0.9"/><line x1="385.0" y1="264.00" x2="382.2" y2="264.00" stroke="#555" stroke-width="0.9"/><line x1="397.5" y1="264.00" x2="400.3" y2="264.00" stroke="#555" stroke-width="0.9"/><line x1="549.0" y1="264.00" x2="546.2" y2="264.00" stroke="#555" stroke-width="0.9"/><text x="26.8" y="268.50" font-family="Liberation Serif" stroke="#000" stroke-width="0.15" font-size="11.6" text-anchor="end">− 3</text><line x1="29.5" y1="220.67" x2="32.3" y2="220.67" stroke="#555" stroke-width="0.9"/><line x1="385.0" y1="220.67" x2="382.2" y2="220.67" stroke="#555" stroke-width="0.9"/><line x1="397.5" y1="220.67" x2="400.3" y2="220.67" stroke="#555" stroke-width="0.9"/><line x1="549.0" y1="220.67" x2="546.2" y2="220.67" stroke="#555" stroke-width="0.9"/><text x="26.8" y="225.17" font-family="Liberation Serif" stroke="#000" stroke-width="0.15" font-size="11.6" text-anchor="end">− 2</text><line x1="29.5" y1="177.33" x2="32.3" y2="177.33" stroke="#555" stroke-width="0.9"/><line x1="385.0" y1="177.33" x2="382.2" y2="177.33" stroke="#555" stroke-width="0.9"/><line x1="397.5" y1="177.33" x2="400.3" y2="177.33" stroke="#555" stroke-width="0.9"/><line x1="549.0" y1="177.33" x2="546.2" y2="177.33" stroke="#555" stroke-width="0.9"/><text x="26.8" y="181.83" font-family="Liberation Serif" stroke="#000" stroke-width="0.15" font-size="11.6" text-anchor="end">− 1</text><line x1="29.5" y1="134.00" x2="32.3" y2="134.00" stroke="#555" stroke-width="0.9"/><line x1="385.0" y1="134.00" x2="382.2" y2="134.00" stroke="#555" stroke-width="0.9"/><line x1="397.5" y1="134.00" x2="400.3" y2="134.00" stroke="#555" stroke-width="0.9"/><line x1="549.0" y1="134.00" x2="546.2" y2="134.00" stroke="#555" stroke-width="0.9"/><text x="26.8" y="138.50" font-family="Liberation Serif" stroke="#000" stroke-width="0.15" font-size="11.6" text-anchor="end">0</text><line x1="29.5" y1="90.67" x2="32.3" y2="90.67" stroke="#555" stroke-width="0.9"/><line x1="385.0" y1="90.67" x2="382.2" y2="90.67" stroke="#555" stroke-width="0.9"/><line x1="397.5" y1="90.67" x2="400.3" y2="90.67" stroke="#555" stroke-width="0.9"/><line x1="549.0" y1="90.67" x2="546.2" y2="90.67" stroke="#555" stroke-width="0.9"/><text x="26.8" y="95.17" font-family="Liberation Serif" stroke="#000" stroke-width="0.15" font-size="11.6" text-anchor="end">1</text><line x1="29.5" y1="47.33" x2="32.3" y2="47.33" stroke="#555" stroke-width="0.9"/><line x1="385.0" y1="47.33" x2="382.2" y2="47.33" stroke="#555" stroke-width="0.9"/><line x1="397.5" y1="47.33" x2="400.3" y2="47.33" stroke="#555" stroke-width="0.9"/><line x1="549.0" y1="47.33" x2="546.2" y2="47.33" stroke="#555" stroke-width="0.9"/><text x="26.8" y="51.83" font-family="Liberation Serif" stroke="#000" stroke-width="0.15" font-size="11.6" text-anchor="end">2</text><line x1="29.5" y1="4.00" x2="32.3" y2="4.00" stroke="#555" stroke-width="0.9"/><line x1="385.0" y1="4.00" x2="382.2" y2="4.00" stroke="#555" stroke-width="0.9"/><line x1="397.5" y1="4.00" x2="400.3" y2="4.00" stroke="#555" stroke-width="0.9"/><line x1="549.0" y1="4.00" x2="546.2" y2="4.00" stroke="#555" stroke-width="0.9"/><text x="26.8" y="8.50" font-family="Liberation Serif" stroke="#000" stroke-width="0.15" font-size="11.6" text-anchor="end">3</text><line x1="397.50" y1="264.0" x2="397.50" y2="261.2" stroke="#555" stroke-width="0.9"/><line x1="397.50" y1="4.0" x2="397.50" y2="6.8" stroke="#555" stroke-width="0.9"/><text x="397.50" y="274.5" font-family="Liberation Serif" stroke="#000" stroke-width="0.15" font-size="11.7" text-anchor="middle">0</text><line x1="437.80" y1="264.0" x2="437.80" y2="261.2" stroke="#555" stroke-width="0.9"/><line x1="437.80" y1="4.0" x2="437.80" y2="6.8" stroke="#555" stroke-width="0.9"/><text x="437.80" y="274.5" font-family="Liberation Serif" stroke="#000" stroke-width="0.15" font-size="11.7" text-anchor="middle">10</text><line x1="478.10" y1="264.0" x2="478.10" y2="261.2" stroke="#555" stroke-width="0.9"/><line x1="478.10" y1="4.0" x2="478.10" y2="6.8" stroke="#555" stroke-width="0.9"/><text x="478.10" y="274.5" font-family="Liberation Serif" stroke="#000" stroke-width="0.15" font-size="11.7" text-anchor="middle">20</text><line x1="518.40" y1="264.0" x2="518.40" y2="261.2" stroke="#555" stroke-width="0.9"/><line x1="518.40" y1="4.0" x2="518.40" y2="6.8" stroke="#555" stroke-width="0.9"/><text x="518.40" y="274.5" font-family="Liberation Serif" stroke="#000" stroke-width="0.15" font-size="11.7" text-anchor="middle">30</text><text x="188" y="289" font-family="Liberation Serif" stroke="#000" stroke-width="0.15" font-size="13.7"><tspan font-style="italic">R</tspan><tspan font-style="italic" font-size="9.5" dy="2">e</tspan><tspan dy="-2" dx="0.2"> (pc)</tspan></text><text x="430" y="289.5" font-family="Liberation Serif" stroke="#000" stroke-width="0.15" font-size="13.7">Num. of regions</text><text transform="translate(9,151.2) rotate(-90)" font-family="Liberation Serif" stroke="#000" stroke-width="0.15" font-size="14.5"><tspan font-style="italic">α</tspan><tspan font-size="9.8" dy="1.6">15 − 33</tspan></text><rect x="291.8" y="8.9" width="87.6" height="62.2" rx="2" fill="#fff" fill-opacity="0.8" stroke="#ddd" stroke-width="0.9"/><rect x="456" y="9.2" width="88.5" height="32.4" rx="2" fill="#fff" fill-opacity="0.8" stroke="#ddd" stroke-width="0.9"/><rect x="460.3" y="13.6" width="20.6" height="6.7" fill="#d4d4d4"/><rect x="460" y="28" width="21" height="7.5" fill="url(#hatch)" stroke="#000" stroke-width="1.5"/><text x="489.5" y="21.3" font-family="Liberation Serif" stroke="#000" stroke-width="0.15" font-size="10.6">SFRS</text><text x="489.5" y="35.5" font-family="Liberation Serif" stroke="#000" stroke-width="0.15" font-size="10.6">GOALS-ES</text><g opacity="0.75"><line x1="301.2" y1="17" x2="312.5" y2="17" stroke="#a8a8a8" stroke-width="1"/><line x1="306.8" y1="11.5" x2="306.8" y2="22.5" stroke="#a8a8a8" stroke-width="1"/><line x1="301.2" y1="15.3" x2="301.2" y2="18.7" stroke="#a8a8a8" stroke-width="1"/><line x1="312.5" y1="15.3" x2="312.5" y2="18.7" stroke="#a8a8a8" stroke-width="1"/><line x1="305.1" y1="11.5" x2="308.5" y2="11.5" stroke="#a8a8a8" stroke-width="1"/><line x1="305.1" y1="22.5" x2="308.5" y2="22.5" stroke="#a8a8a8" stroke-width="1"/><circle cx="306.8" cy="17" r="2.5" fill="#a8a8a8"/></g><path d="M307,27.3 L310,32.3 L307,37.3 L304,32.3 Z" fill="#fbbd2e"/><g opacity="0.85"><rect x="303.7" y="43.7" width="6.6" height="6.2" fill="#4a98ec"/><line x1="307" y1="41.9" x2="307" y2="51.9" stroke="#2f88e6" stroke-width="1.2"/></g><rect x="304.1" y="58.3" width="5.8" height="5.6" fill="none" stroke="#2f88e6" stroke-width="1.2"/><line x1="307" y1="56.5" x2="307" y2="65.7" stroke="#2f88e6" stroke-width="1.2"/><text x="326" y="21" font-family="Liberation Serif" stroke="#000" stroke-width="0.15" font-size="10.6">SFRS</text><text x="326" y="36" font-family="Liberation Serif" stroke="#000" stroke-width="0.15" font-size="10.6">SBnuc</text><text x="326" y="51" font-family="Liberation Serif" stroke="#000" stroke-width="0.15" font-size="10.6">SF(off-nuc)</text><text x="326" y="66.5" font-family="Liberation Serif" stroke="#000" stroke-width="0.15" font-size="10.6">SF(ex-nuc)</text>
</svg></body></html>
